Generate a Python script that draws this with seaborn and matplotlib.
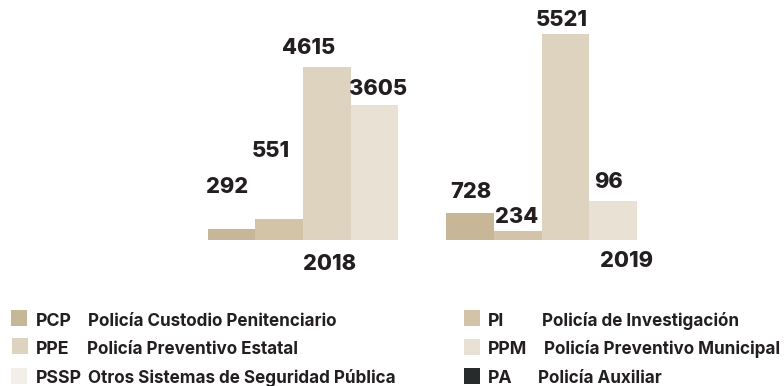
import matplotlib

matplotlib.use("Agg")
import matplotlib.pyplot as plt
import pandas as pd
import seaborn as sns
from matplotlib.patches import Rectangle

# data
years = ["2018", "2019"]
groups = ["PCP", "PI", "PPE", "PPM"]
heights_2018 = [292, 551, 4615, 3605]
heights_2019 = [728, 234, 5521, 1045]  # PPM bar is drawn taller than its label says
labels_2018 = ["292", "551", "4615", "3605"]
labels_2019 = ["728", "234", "5521", "96"]

legend_abbr = ["PCP", "PPE", "PSSP", "PI", "PPM", "PA"]
legend_names = [
    "Policía Custodio Penitenciario",
    "Policía Preventivo Estatal",
    "Otros Sistemas de Seguridad Pública",
    "Policía de Investigación",
    "Policía Preventivo Municipal",
    "Policía Auxiliar",
]

palette = {
    "PCP": "#c8b797",
    "PI": "#d4c4a7",
    "PPE": "#ded3bf",
    "PPM": "#e9e1d4",
    "PSSP": "#f3efe8",
    "PA": "#272b2b",
}
TEXT = "#231f20"

df = pd.DataFrame(
    {
        "year": [years[0]] * 4 + [years[1]] * 4,
        "group": groups * 2,
        "value": heights_2018 + heights_2019,
    }
)

sns.set_theme(style="white")
plt.rcParams["font.family"] = ["Inter", "DejaVu Sans"]

W, H = 784, 386
fig = plt.figure(figsize=(W / 100, H / 100), dpi=100)
ax = fig.add_axes([0, (H - 240) / H, 1, 240 / H])

sns.barplot(
    data=df, x="year", y="value", hue="group", hue_order=groups,
    palette=palette, width=0.8, saturation=1, linewidth=0, ax=ax, legend=False,
)
px = 238.5  # pixels per category unit
ax.set_xlim(-303 / px, (W - 303) / px)
ax.set_ylim(0, 240 * 26.75)
ax.axis("off")

# hand placed value labels: (dx px from bar centre, baseline px above bar top)
offsets_2018 = [(-4, 36), (-8, 62), (-18, 13), (4, 10)]
offsets_2019 = [(1, 15), (-1, 8), (-4, 8), (-5, 13)]
for gi, (heights, labels, offs) in enumerate(
    [(heights_2018, labels_2018, offsets_2018), (heights_2019, labels_2019, offsets_2019)]
):
    for hi, (h, lab, (dx, dy)) in enumerate(zip(heights, labels, offs)):
        x = gi + (hi - 1.5) * 0.2
        ax.annotate(
            lab, (x, h), xytext=(dx * 0.72, dy * 0.72), textcoords="offset points",
            ha="center", va="baseline", fontsize=15.7, fontweight="heavy", color=TEXT,
        )

# year labels
for gi, (yr, dx, dy) in enumerate([(years[0], 27, 30), (years[1], 84.5, 27)]):
    ax.annotate(
        yr, (gi, 0), xytext=(dx * 0.72, -dy * 0.72), textcoords="offset points",
        ha="center", va="baseline", fontsize=15.7, fontweight="heavy", color=TEXT,
        annotation_clip=False,
    )

# legend drawn by hand, in pixel positions
def fx(x):
    return x / W


def fy(y):
    return 1 - y / H


rows = [326, 354.5, 383]
squares = [(11, 310), (12, 338), (11, 368), (464, 310), (464, 339), (464, 368)]
abbr_x = [36, 36, 36, 488, 488, 488]
name_x = [88, 87, 88, 542, 544, 538]
for i, (ab, name) in enumerate(zip(legend_abbr, legend_names)):
    sx, sy = squares[i]
    fig.patches.append(
        Rectangle((fx(sx), fy(sy + 15.5)), 16 / W, 15.5 / H, transform=fig.transFigure,
                  facecolor=palette[ab], edgecolor="none")
    )
    y = fy(rows[i % 3])
    fig.text(fx(abbr_x[i]), y, ab, fontsize=12.8, fontweight="bold", color=TEXT, va="baseline")
    fig.text(fx(name_x[i]), y, name, fontsize=12.3, fontweight="bold", color=TEXT, va="baseline")

fig.savefig("out.png", dpi=100)
